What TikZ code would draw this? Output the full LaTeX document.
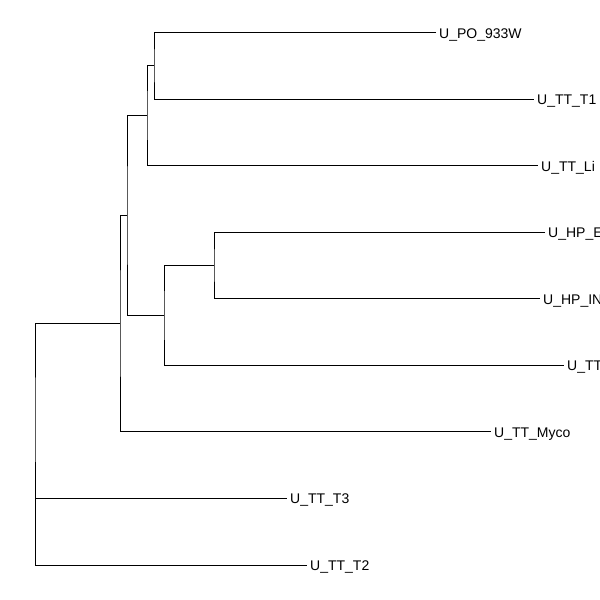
\documentclass[tikz,border=0pt]{standalone}
\usepackage{fontspec}
\setmainfont{Liberation Sans}
\begin{document}
\begin{tikzpicture}[x=1pt,y=-1pt,
  branch/.style={draw=black,line width=0.9pt},
  tiplabel/.style={anchor=base west,inner sep=0pt,font=\fontsize{14}{16}\selectfont}]
\useasboundingbox (0,0) rectangle (600,600);
\clip (0,0) rectangle (600,600);
% tips
\coordinate (t1) at (436,32.5);
\coordinate (t2) at (534,99);
\coordinate (t3) at (538,165.5);
\coordinate (t4) at (545,232);
\coordinate (t5) at (540,298.5);
\coordinate (t6) at (564,365);
\coordinate (t7) at (491,431.5);
\coordinate (t8) at (287,498);
\coordinate (t9) at (307,565);
% internal nodes
\coordinate (n1) at (154,65.5);
\coordinate (n2) at (147,115.5);
\coordinate (n3) at (214,265.5);
\coordinate (n4) at (164,315.5);
\coordinate (n5) at (127,215.5);
\coordinate (n6) at (120,323.5);
\coordinate (root) at (35,430);
\coordinate (r2) at (35,462);
% branches
\draw[branch] (t1) -| (n1) |- (t2);
\draw[branch] (n1) -| (n2) |- (t3);
\draw[branch] (t4) -| (n3) |- (t5);
\draw[branch] (n3) -| (n4) |- (t6);
\draw[branch] (n2) -| (n5) |- (n4);
\draw[branch] (n5) -| (n6) |- (t7);
\draw[branch] (n6) -| (root) |- (t9);
\draw[branch] (r2) |- (t8);
% labels
\node[tiplabel] (l1) at ([xshift=3pt,yshift=-5.5pt]t1) {U\_PO\_933W};
\node[tiplabel] (l2) at ([xshift=3pt,yshift=-5.5pt]t2) {U\_TT\_T1};
\node[tiplabel] (l3) at ([xshift=3pt,yshift=-5.5pt]t3) {U\_TT\_Li};
\node[tiplabel] (l4) at ([xshift=3pt,yshift=-5.5pt]t4) {U\_HP\_E};
\node[tiplabel] (l5) at ([xshift=3pt,yshift=-5.5pt]t5) {U\_HP\_IN};
\node[tiplabel] (l6) at ([xshift=3pt,yshift=-5.5pt]t6) {U\_TT\_T};
\node[tiplabel] (l7) at ([xshift=3pt,yshift=-5.5pt]t7) {U\_TT\_Myco};
\node[tiplabel] (l8) at ([xshift=3pt,yshift=-5.5pt]t8) {U\_TT\_T3};
\node[tiplabel] (l9) at ([xshift=3pt,yshift=-5.5pt]t9) {U\_TT\_T2};
\end{tikzpicture}
\end{document}
